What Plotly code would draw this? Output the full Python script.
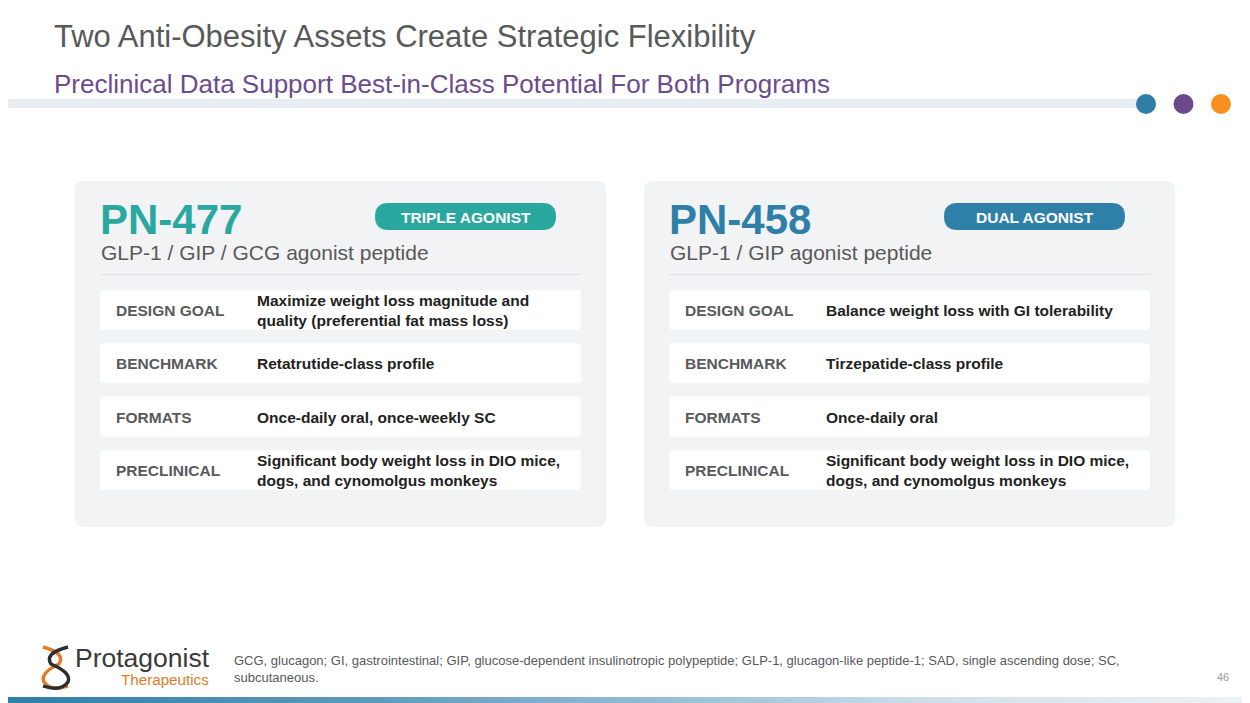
import plotly.graph_objects as go

# slide text
title = "Two Anti-Obesity Assets Create Strategic Flexibility"
subtitle = "Preclinical Data Support Best-in-Class Potential For Both Programs"

programs = ["PN-477", "PN-458"]
tags = ["TRIPLE AGONIST", "DUAL AGONIST"]
mechanisms = ["GLP-1 / GIP / GCG agonist peptide", "GLP-1 / GIP agonist peptide"]
program_colors = ["#2aa8a0", "#2f80a8"]

row_labels = ["DESIGN GOAL", "BENCHMARK", "FORMATS", "PRECLINICAL"]
pn477_values = [
    "Maximize weight loss magnitude and<br>quality (preferential fat mass loss)",
    "Retatrutide-class profile",
    "Once-daily oral, once-weekly SC",
    "Significant body weight loss in DIO mice,<br>dogs, and cynomolgus monkeys",
]
pn458_values = [
    "Balance weight loss with GI tolerability",
    "Tirzepatide-class profile",
    "Once-daily oral",
    "Significant body weight loss in DIO mice,<br>dogs, and cynomolgus monkeys",
]

dot_colors = ["#2f7ea6", "#6a4c8e", "#f7901e"]

footnote = ("GCG, glucagon; GI, gastrointestinal; GIP, glucose-dependent insulinotropic polypeptide; "
            "GLP-1, glucagon-like peptide-1; SAD, single ascending dose; SC,<br>subcutaneous.")
page_no = "46"

FONT = "Liberation Sans, Arial, sans-serif"

# the page body has an 8px margin, so the plot area starts at (8, 8)
OFF = 8


def rrect(x0, y0, x1, y1, r):
    return (f"M {x0+r},{y0} L {x1-r},{y0} Q {x1},{y0} {x1},{y0+r} "
            f"L {x1},{y1-r} Q {x1},{y1} {x1-r},{y1} L {x0+r},{y1} "
            f"Q {x0},{y1} {x0},{y1-r} L {x0},{y0+r} Q {x0},{y0} {x0+r},{y0} Z")


shapes = []
ann = []


def text(x, y, s, size, color, bold=False, anchor="left", yanchor="middle"):
    if bold:
        s = "<b>" + s + "</b>"
    ann.append(dict(x=x, y=y, xref="x", yref="y", text=s, showarrow=False,
                    xanchor=anchor, yanchor=yanchor, align="left",
                    font=dict(family=FONT, size=size, color=color)))


# header
text(52, 36, title, 31, "#58595b")
text(52, 84, subtitle, 26, "#6b4c8c")
shapes.append(dict(type="rect", x0=0, x1=1140, y0=99, y1=108, fillcolor="#e8eef3",
                   line=dict(width=0), layer="below"))
for i, c in enumerate(dot_colors):
    cx = 1146 + i * 37.5
    shapes.append(dict(type="circle", x0=cx - 10, x1=cx + 10, y0=94, y1=114,
                       fillcolor=c, line=dict(width=0)))

# cards
all_values = [pn477_values, pn458_values]
for k in range(2):
    ox = 75 + k * 569
    shapes.append(dict(type="path", path=rrect(ox, 181, ox + 531, 527, 9),
                       fillcolor="#f1f3f5", line=dict(width=0), layer="below"))
    text(ox + 23, 219, programs[k], 42, program_colors[k], bold=True)
    px = ox + 300
    shapes.append(dict(type="path", path=rrect(px, 203, px + 181, 230, 13.5),
                       fillcolor=program_colors[k], line=dict(width=0)))
    text(px + 90.5, 217, tags[k], 15.5, "white", bold=True, anchor="center")
    text(ox + 24, 252, mechanisms[k], 21, "#58595b")
    shapes.append(dict(type="line", x0=ox + 25, x1=ox + 506, y0=274.5, y1=274.5,
                       line=dict(color="#dfe2e5", width=1.2)))
    for j, lab in enumerate(row_labels):
        ry = 290 + j * 53.3
        shapes.append(dict(type="path", path=rrect(ox + 25, ry, ox + 506, ry + 40, 4),
                           fillcolor="white", line=dict(width=0)))
        text(ox + 39, ry + 20.5, lab, 15.5, "#58595b", bold=True)
        text(ox + 180, ry + 20.5, all_values[k][j], 15.5, "#222222", bold=True)

# footer logo (two crossing strands)
shapes.append(dict(type="path",
                   path="M 43,647 Q 66,653 59,664 Q 40,673 44,682 Q 51,692 68,686",
                   line=dict(color="#e07b2a", width=3.4)))
shapes.append(dict(type="path",
                   path="M 68,647 Q 44,653 51,664 Q 72,673 68,682 Q 61,692 43,686",
                   line=dict(color="#2d2d2d", width=3.4)))
text(73, 675, "Protagonist", 26.5, "#3a3a3a", yanchor="bottom")
text(119, 669, "Therapeutics", 15.2, "#e07b2a", yanchor="top")
text(232, 669, footnote, 13, "#58595b")
text(1231, 677, page_no, 11, "#9a9a9a", anchor="right")

fig = go.Figure()
# bottom gradient band
fig.add_trace(go.Scatter(x=[0, 1250, 1250, 0, 0], y=[697, 697, 703, 703, 697],
                         mode="lines", fill="toself", line=dict(width=0),
                         fillgradient=dict(type="horizontal",
                                           colorscale=[[0, "#2f7ea6"], [0.3, "#5d9bbd"],
                                                       [0.75, "#cfdfea"], [1, "#eef3f7"]]),
                         hoverinfo="skip", showlegend=False))

fig.update_layout(
    width=1250 - OFF, height=703 - OFF,
    margin=dict(l=0, r=0, t=0, b=0),
    paper_bgcolor="white", plot_bgcolor="white",
    xaxis=dict(range=[OFF, 1250], visible=False, fixedrange=True),
    yaxis=dict(range=[703, OFF], visible=False, fixedrange=True),
    shapes=shapes, annotations=ann, showlegend=False,
)
fig.write_html("out.html")
